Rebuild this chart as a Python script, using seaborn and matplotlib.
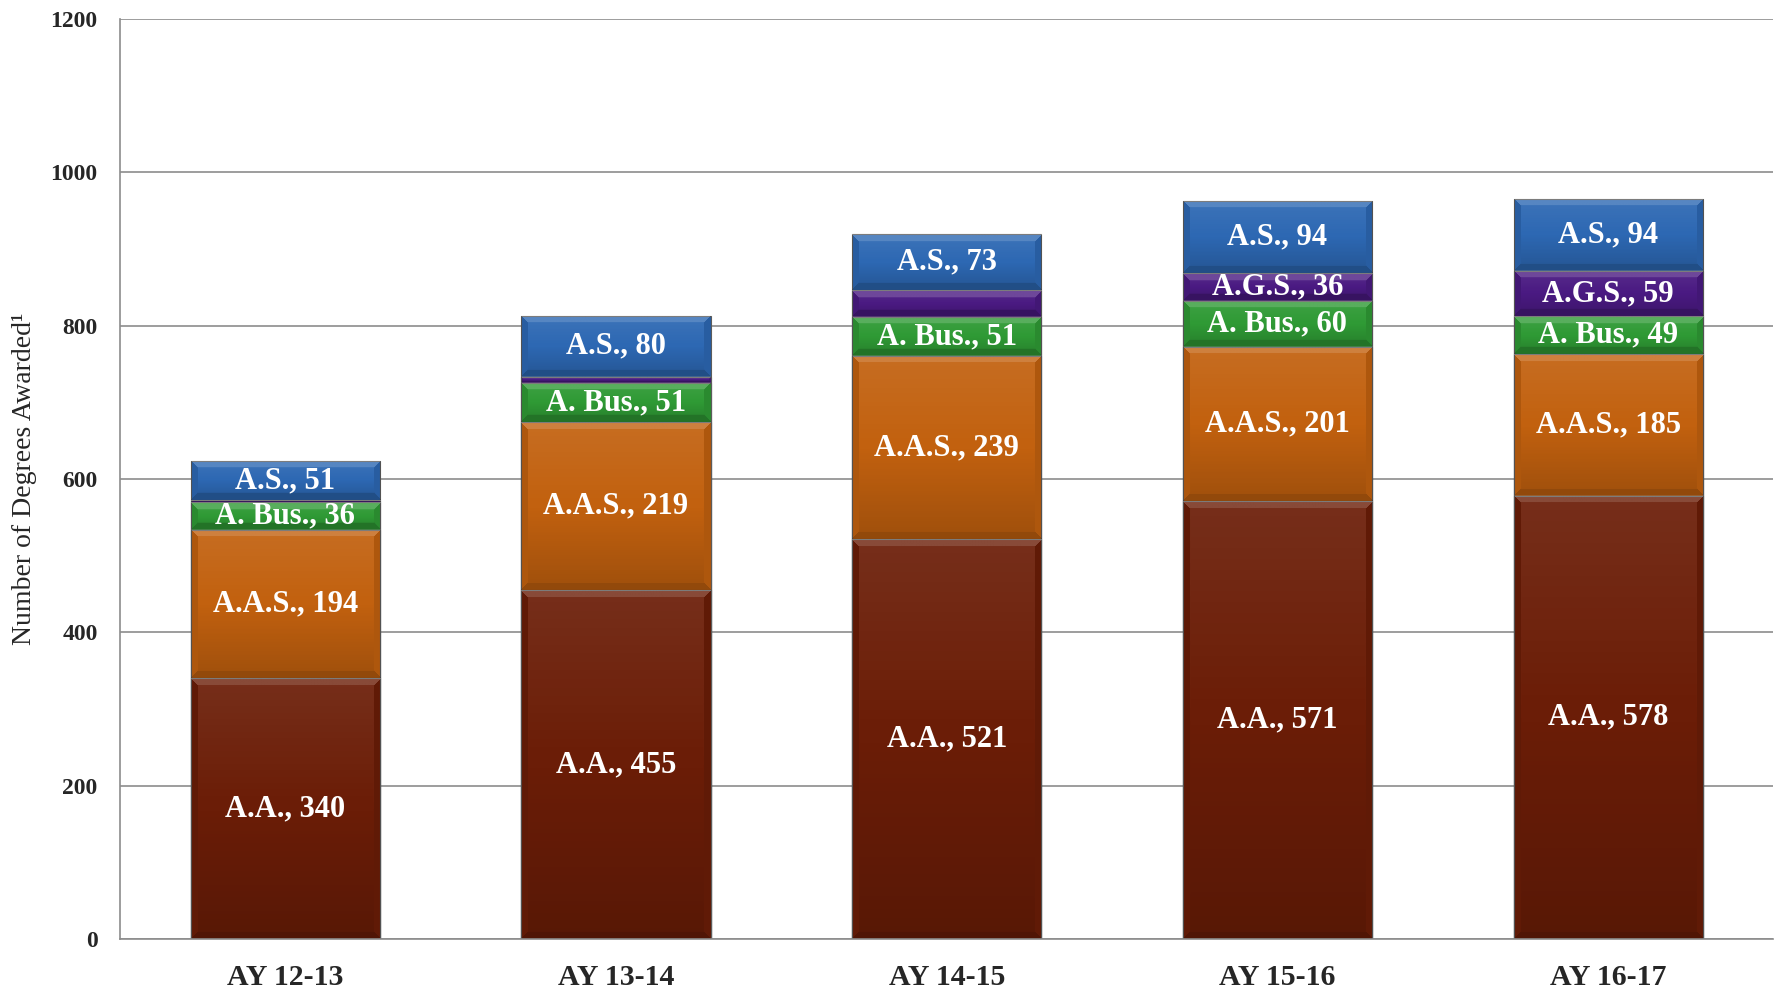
import numpy as np
import pandas as pd
import matplotlib.pyplot as plt
import seaborn as sns

# degrees awarded per academic year, by degree type
years = ["AY 12-13", "AY 13-14", "AY 14-15", "AY 15-16", "AY 16-17"]
aa = [340, 455, 521, 571, 578]
aas = [194, 219, 239, 201, 185]
abus = [36, 51, 51, 60, 49]
ags = [2, 8, 35, 36, 59]
a_s = [51, 80, 73, 94, 94]

series_names = ["A.A.", "A.A.S.", "A. Bus.", "A.G.S.", "A.S."]
series_values = [aa, aas, abus, ags, a_s]
series_colors = ["#6b1d07", "#c2610f", "#2f9a35", "#4a1a82", "#2d68b3"]
ags_labeled = [False, False, False, True, True]

rows = []
for name, vals in zip(series_names, series_values):
    for i, yr in enumerate(years):
        rows.append({"year": yr, "degree": name, "count": vals[i]})
df = pd.DataFrame(rows)
df["top"] = df.groupby("year", sort=False)["count"].cumsum()
df["bottom"] = df["top"] - df["count"]

BAR_W = 0.572


def bevel(h_px, w_px, b=7):
    """Light/dark overlay giving the bars a bevelled look."""
    h_px = max(int(h_px), 2)
    w_px = max(int(w_px), 2)
    b = min(b, h_px / 3)
    yy, xx = np.mgrid[0:h_px, 0:w_px] + 0.5
    d_top, d_bot = yy, h_px - yy
    d_l, d_r = xx, w_px - xx
    t = yy / h_px
    lum = np.where(t < 0.5, 1.0, 0.0)
    alpha = np.where(t < 0.5, 0.08 * (1 - 2 * t), 0.18 * (2 * t - 1))
    dmin = np.minimum.reduce([d_top, d_bot, d_l, d_r])
    band = dmin < b
    top = band & (d_top == dmin)
    bot = band & (d_bot == dmin) & ~top
    side = band & ~top & ~bot
    lum[top], alpha[top] = 1.0, 0.2
    lum[bot], alpha[bot] = 0.0, 0.25
    lum[side], alpha[side] = 0.0, 0.1
    rgba = np.dstack([lum, lum, lum, alpha])
    return rgba


sns.set_style("white")
plt.rcParams["font.family"] = ["Liberation Serif", "DejaVu Serif"]

fig = plt.figure(figsize=(17.77, 9.91), dpi=100)
ax = fig.add_axes([0.0675, 0.0525, 0.9305, 0.9285])

# stacked bars: draw cumulative totals, tallest first
for name, color in reversed(list(zip(series_names, series_colors))):
    sub = df[df["degree"] == name]
    sns.barplot(data=sub, x="year", y="top", order=years, color=color,
                saturation=1, width=BAR_W, errorbar=None, ax=ax,
                edgecolor="#5c5c5c", linewidth=0.8, zorder=2)

# bevel shading on each segment
px_per_unit = 920 / 1200
for _, r in df.iterrows():
    if r["count"] <= 0:
        continue
    i = years.index(r["year"])
    arr = bevel(r["count"] * px_per_unit, BAR_W * 331)
    ax.imshow(arr, extent=(i - BAR_W / 2, i + BAR_W / 2, r["bottom"], r["top"]),
              aspect="auto", interpolation="bilinear", zorder=2.5)

# segment labels
for _, r in df.iterrows():
    i = years.index(r["year"])
    if r["degree"] == "A.G.S." and not ags_labeled[i]:
        continue
    ax.text(i, (r["bottom"] + r["top"]) / 2, f"{r['degree']}, {r['count']}",
            ha="center", va="center", color="white", fontsize=22,
            fontweight="bold", zorder=4)

ax.set_xlim(-0.5, 4.5)
ax.set_ylim(0, 1200)
ax.set_yticks(range(0, 1201, 200))
ax.set_axisbelow(True)
ax.yaxis.grid(True, color="#8c8c8c", linewidth=1.2)
ax.xaxis.grid(False)

for s in ["top", "right"]:
    ax.spines[s].set_visible(False)
for s in ["left", "bottom"]:
    ax.spines[s].set_color("#8c8c8c")
    ax.spines[s].set_linewidth(1.2)

ax.tick_params(axis="y", length=0, pad=16, labelsize=17)
ax.tick_params(axis="x", length=0, pad=18, labelsize=21.5)
for lab in ax.get_yticklabels() + ax.get_xticklabels():
    lab.set_fontweight("bold")

ax.set_xlabel("")
ax.set_ylabel("Number of Degrees Awarded¹", fontsize=20, labelpad=10)

fig.savefig("out.png", dpi=100)
